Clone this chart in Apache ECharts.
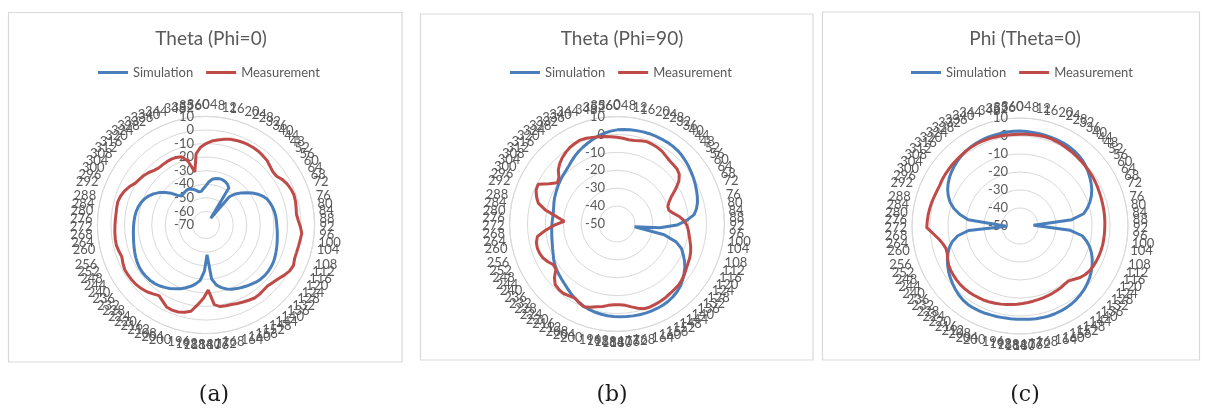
<!DOCTYPE html>
<html>
<head>
<meta charset="utf-8">
<script src="https://cdn.jsdelivr.net/npm/echarts@6/dist/echarts.min.js"></script>
<style>
html, body { margin: 0; padding: 0; background: #fff; }
#chart { width: 1205px; height: 410px; }
</style>
</head>
<body>
<div id="chart"></div>
<script>
// angle labels (deg), 91 spokes like the excel radar
var angles = [0,4,8,12,16,20,24,28,32,36,40,44,48,52,56,60,64,68,72,76,80,84,88,92,96,100,104,108,112,116,120,124,128,132,136,140,144,148,152,156,160,164,168,172,176,180,184,188,192,196,200,204,208,212,216,220,224,228,232,236,240,244,248,252,256,260,264,268,272,276,280,284,288,292,296,300,304,308,312,316,320,324,328,332,336,340,344,348,352,356,360]

// (a) Theta (Phi=0)
var simA = [-41,-38,-36,-35,-34.5,-34.5,-35,-36,-38,-64,
    -43,-38.5,-35,-32,-28.5,-25.5,-23,-21,-20,-19.2,
    -18.6,-18.2,-18,-17.8,-17.3,-16.8,-16.2,-15.5,-14.8,-14,
    -13.3,-13,-12.8,-12.9,-13.3,-14,-15,-16,-17,-18,
    -19,-20.5,-22.5,-25,-30,-48,-36,-29,-26,-23.5,
    -21.5,-19.5,-17.8,-16.2,-14.8,-13.5,-12.6,-12,-11.7,-11.6,
    -11.8,-12.3,-13,-13.8,-14.6,-15.3,-15.9,-16.3,-16.6,-16.9,
    -17.2,-17.6,-18.3,-19.3,-20.7,-22.6,-25,-28,-31.5,-35.5,
    -40,-42,-41.5,-41,-40.5,-41,-42,-43.5,-45,-45,
    -43]
var measA = [-10,-8,-6.8,-5.5,-4.4,-3.8,-3.4,-3.2,-3.2,-3.4,
    -4,-4.6,-6,-7,-6.8,-4.5,-3,-2,-1.5,-1.8,
    -2.4,-2.9,-2,-0.5,0.8,0.3,-0.1,-0.3,-0.2,1,
    0.3,-1.5,-3.6,-5,-6.2,-6,-5.5,-5.4,-6.2,-7,
    -7.8,-8.5,-8.8,-9,-11,-22,-16,-11,-5.5,-3.8,
    -2.7,-2.5,-3,-5.5,-7.5,-6,-4.3,-3.2,-2.4,-2,
    -1.8,-1.7,-2.6,-3.7,-3,-2.3,-2.4,-2.6,-2.9,-3.1,
    -3.2,-3,-2.8,-3.6,-5,-7,-9.5,-10.6,-11.5,-12.8,
    -14.5,-15.4,-15.3,-15.2,-15.2,-15.6,-16.5,-21,-30,-17,
    -12.5]

// (b) Theta (Phi=90)
var simB = [2.6,2.9,3.1,3.3,3.5,3.6,3.6,3.6,3.6,3.5,
    3.2,2.7,2,1.3,0.5,-0.2,-1,-1.8,-2.6,-3.5,
    -4.8,-6.6,-11,-16.5,-26,-40,-23,-15.5,-11.5,-9.3,
    -7,-5,-3.4,-1.8,-0.4,0.6,1.3,1.8,2.1,2.2,
    2.3,2.3,2.2,2.1,2,1.9,1.7,1.5,1.2,0.8,
    0.3,-0.4,-1.3,-2.3,-3.4,-4.6,-5.6,-6.4,-7.1,-7.8,
    -8.6,-9.6,-10.7,-11.5,-12.2,-12.7,-13.1,-13.4,-13.6,-13.8,
    -13.9,-13.8,-13.4,-12.8,-12.2,-11.7,-11.1,-10.5,-9.9,-9.3,
    -8.7,-7.8,-6.6,-5.3,-4.1,-3,-1.9,-0.8,0.3,1.2,
    2]
var measB = [-1.5,-2,-2.5,-2.3,-1.6,-1.1,-1.3,-1.6,-2.2,-3.2,
    -4,-4.3,-4.5,-5.5,-8,-12,-16,-18.5,-20,-20,
    -18,-15,-12.5,-11,-10,-9.2,-8.2,-7,-6,-5.2,
    -4.7,-4,-3,-2.2,-1.6,-1.4,-1.2,-0.8,-0.5,-0.3,
    -0.1,-0.3,-1.5,-3,-4.3,-4.8,-4.8,-4.3,-3.2,-2.4,
    -1.2,-0.2,-1.2,-2.4,-1.8,-1,-1.1,-1.6,-4,-7.5,
    -7.8,-6,-4.5,-3.8,-3.5,-3.8,-5,-10,-15,-20.5,
    -16,-9.5,-4.5,-2.5,-1,-0.7,-6,-9.5,-8.5,-5.5,
    -3.5,-2,-0.8,0.2,0.8,1.2,0.9,0.3,-0.2,-0.6,
    -1.1]

// (c) Phi (Theta=0)
var simC = [2.8,2.6,2.5,2.4,2.3,2.2,2.1,2,1.8,1.5,
    1,0.4,-0.5,-1.6,-2.8,-4,-5.4,-7,-9,-11.3,
    -14,-21,-42.5,-42.5,-22,-15,-12,-9.5,-7.5,-5.8,
    -4.3,-3,-1.8,-0.8,0.1,0.8,1.4,1.9,2.2,2.4,
    2.5,2.5,2.4,2.3,2.1,1.9,1.8,1.8,1.8,1.9,
    2,2.2,2.3,2.4,2.3,1.9,1.2,0.3,-0.7,-1.8,
    -2.9,-4.2,-5.6,-7.2,-9,-11.5,-15,-21.5,-42.5,-42.5,
    -21,-16,-12,-9,-6.8,-5,-3.6,-2.4,-1.4,-0.6,
    0.2,0.9,1.4,1.8,2.1,2.3,2.4,2.5,2.6,2.7,
    2.8]
var measC = [1,1.1,1.2,1.4,1.5,1.4,1.1,0.8,0.4,0.1,
    -0.2,-0.5,-0.8,-1,-1.2,-1.5,-1.8,-2.1,-2.3,-2.5,
    -2.6,-2.7,-2.8,-2.9,-2.9,-2.9,-2.9,-3,-3.1,-3.3,
    -3.6,-4,-4.8,-6,-7.8,-9.3,-9.3,-8.9,-8.7,-8.5,
    -8.3,-8.1,-7.9,-7.6,-7.3,-6.9,-6.5,-6.1,-5.7,-5.3,
    -4.9,-4.5,-4.2,-4,-3.8,-3.6,-3.5,-3.5,-3.7,-4,
    -4.3,-4.8,-5.8,-6.8,-7,-6,-4.2,-1.5,1.8,1.6,
    1.4,1.1,0.8,0.4,0.1,0,0.3,0.5,0.6,0.8,
    0.9,1.1,1.3,1.5,1.6,1.6,1.5,1.3,1.2,1,
    0.9]

var titles = ['Theta (Phi=0)', 'Theta (Phi=90)', 'Phi (Theta=0)']
var rMins = [-70, -50, -50]
var rMax = 10
var angleMax = 364 // one step past 360, lands back on 0

var blue = '#4A7EBB'
var red = '#BE4B48'
var gray = '#595959'

var panels = [
    { center: [206, 225], radius: 108.6, legendLeft: 98, box: [8.5, 12.5, 393.5, 349.5], tag: '(a)', tagX: 214, sim: simA, meas: measA },
    { center: [617, 224], radius: 107.4, legendLeft: 510, box: [420.5, 14, 392.5, 346], tag: '(b)', tagX: 612, sim: simB, meas: measB },
    { center: [1020, 226], radius: 108, legendLeft: 911, box: [822.5, 12, 377, 348], tag: '(c)', tagX: 1025, sim: simC, meas: measC }
]

// radius first, angle second (polar data order); repeat first point to close the loop
function toPolar(vals) {
    var out = angles.map(function (a, i) { return [vals[i], a] })
    out.push([vals[0], angleMax])
    return out
}

var option = {
    animation: false,
    backgroundColor: '#fff',
    textStyle: { fontFamily: 'Lato' },
    title: [],
    legend: [],
    polar: [],
    angleAxis: [],
    radiusAxis: [],
    series: [],
    graphic: []
}

panels.forEach(function (p, k) {
    option.title.push({
        text: titles[k],
        left: p.center[0],
        top: 24,
        textAlign: 'center',
        textStyle: { color: gray, fontSize: 19, fontWeight: 'normal', fontFamily: 'Lato' }
    })
    option.legend.push({
        left: p.legendLeft,
        top: 66,
        padding: 0,
        icon: 'rect',
        itemWidth: 30,
        itemHeight: 3,
        itemGap: 13,
        textStyle: { color: gray, fontSize: 13, fontFamily: 'Lato' },
        data: ['Simulation', 'Measurement']
    })
    option.polar.push({ center: p.center, radius: p.radius })
    option.angleAxis.push({
        polarIndex: k,
        type: 'value',
        min: 0,
        max: angleMax,
        interval: 4,
        startAngle: 90,
        clockwise: true,
        axisLine: { lineStyle: { color: '#d9d9d9', width: 1 } },
        axisTick: { show: false },
        splitLine: { show: false },
        axisLabel: { color: gray, fontSize: 13, margin: 5, fontFamily: 'Lato' }
    })
    option.radiusAxis.push({
        polarIndex: k,
        type: 'value',
        min: rMins[k],
        max: rMax,
        interval: 10,
        axisLine: { show: false },
        axisTick: { show: false },
        splitLine: { lineStyle: { color: '#d9d9d9', width: 1 } },
        axisLabel: { color: gray, fontSize: 13, margin: 12, fontFamily: 'Lato' },
        z: 1
    })
    option.series.push({
        name: 'Simulation',
        type: 'line',
        coordinateSystem: 'polar',
        polarIndex: k,
        symbol: 'none',
        lineStyle: { color: blue, width: 3 },
        itemStyle: { color: blue },
        data: toPolar(p.sim)
    })
    option.series.push({
        name: 'Measurement',
        type: 'line',
        coordinateSystem: 'polar',
        polarIndex: k,
        symbol: 'none',
        lineStyle: { color: red, width: 3 },
        itemStyle: { color: red },
        data: toPolar(p.meas)
    })
    option.graphic.push({
        type: 'rect',
        shape: { x: p.box[0], y: p.box[1], width: p.box[2], height: p.box[3] },
        style: { fill: 'none', stroke: '#d9d9d9', lineWidth: 1.2 },
        silent: true
    })
    option.graphic.push({
        type: 'text',
        x: p.tagX,
        y: 395,
        style: {
            text: p.tag,
            fill: '#1a1a1a',
            font: '22px "DejaVu Serif"',
            textAlign: 'center',
            textVerticalAlign: 'middle'
        },
        silent: true
    })
})

var myChart = echarts.init(document.getElementById('chart'))
myChart.setOption(option)
</script>
</body>
</html>
